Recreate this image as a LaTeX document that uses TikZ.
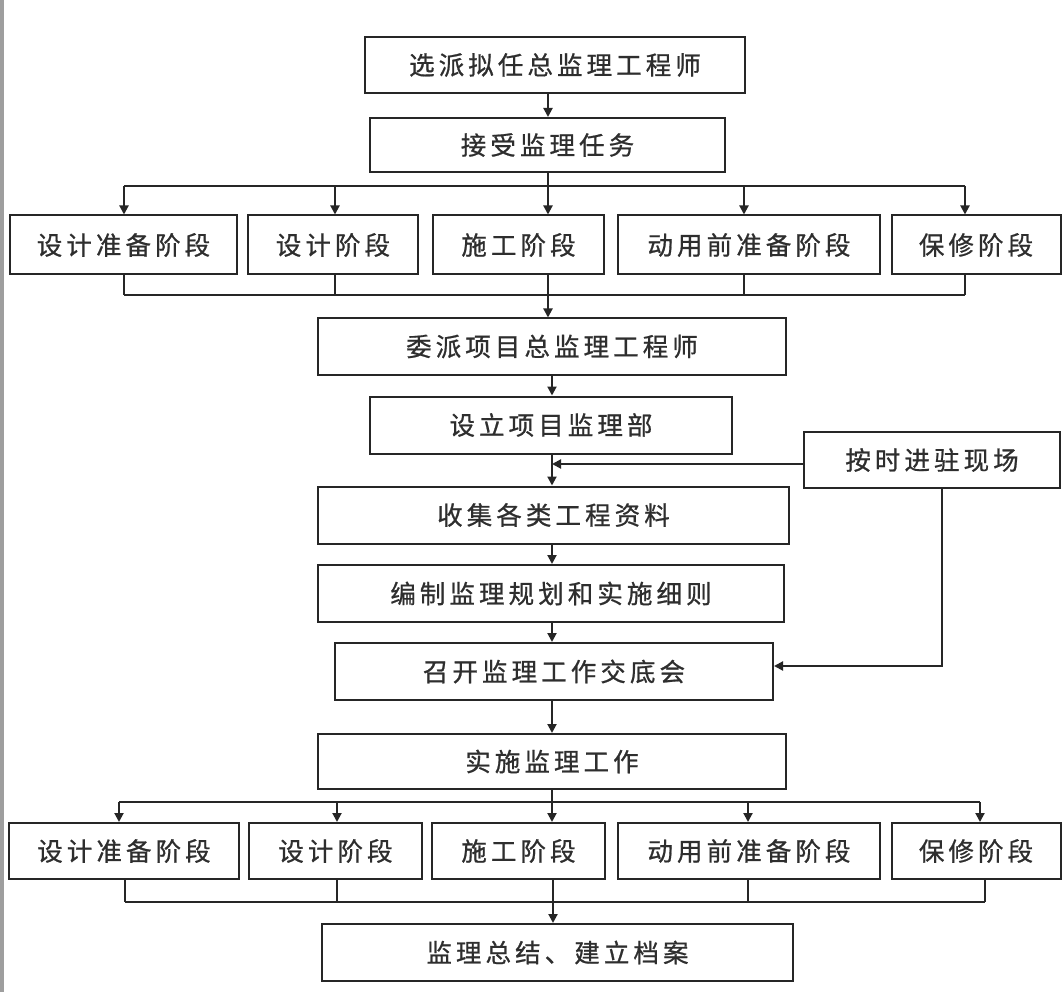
\documentclass[tikz,border=0pt]{standalone}
\usepackage{fontspec}
\newfontfamily\cjk{Noto Sans CJK SC}[LetterSpace=16, FakeBold=0.8]
\usetikzlibrary{arrows.meta}
\begin{document}
\begin{tikzpicture}[x=1pt,y=-1pt,
  box/.style={draw=black!85, line width=2pt, inner sep=0pt, font=\cjk\fontsize{25.5}{30}\selectfont, text=black!82},
  ln/.style={draw=black!85, line width=2pt},
  arr/.style={ln, -{Triangle[length=9pt,width=9pt]}}]
\useasboundingbox[fill=white] (0,0) rectangle (1063,992);
\fill[black!38] (0,0) rectangle (4,992);
% main column
\node[box, minimum width=380pt, minimum height=56pt] (b1) at (555,65) {选派拟任总监理工程师};
\node[box, minimum width=355pt, minimum height=54pt] (b2) at (547.5,145) {接受监理任务};
\node[box, minimum width=227pt, minimum height=59pt] (r1a) at (123.5,245) {设计准备阶段};
\node[box, minimum width=170pt, minimum height=59pt] (r1b) at (333,245) {设计阶段};
\node[box, minimum width=171pt, minimum height=59pt] (r1c) at (518.5,245) {施工阶段};
\node[box, minimum width=262pt, minimum height=59pt] (r1d) at (749,245) {动用前准备阶段};
\node[box, minimum width=169pt, minimum height=59pt] (r1e) at (976,245) {保修阶段};
\node[box, minimum width=468pt, minimum height=56pt] (b3) at (552,346.5) {委派项目总监理工程师};
\node[box, minimum width=362pt, minimum height=57pt] (b4) at (551,425) {设立项目监理部};
\node[box, minimum width=256pt, minimum height=56pt] (side) at (932,460) {按时进驻现场};
\node[box, minimum width=471pt, minimum height=57pt] (b5) at (553.5,515) {收集各类工程资料};
\node[box, minimum width=466pt, minimum height=57pt] (b6) at (551,593.5) {编制监理规划和实施细则};
\node[box, minimum width=438pt, minimum height=57pt] (b7) at (554,671.5) {召开监理工作交底会};
\node[box, minimum width=468pt, minimum height=55pt] (b8) at (552,761.5) {实施监理工作};
\node[box, minimum width=230pt, minimum height=56pt] (r2a) at (124,851) {设计准备阶段};
\node[box, minimum width=173pt, minimum height=56pt] (r2b) at (335.5,851) {设计阶段};
\node[box, minimum width=173pt, minimum height=56pt] (r2c) at (518.5,851) {施工阶段};
\node[box, minimum width=262pt, minimum height=56pt] (r2d) at (749,851) {动用前准备阶段};
\node[box, minimum width=169pt, minimum height=56pt] (r2e) at (976,851) {保修阶段};
\node[box, minimum width=471pt, minimum height=57pt] (b9) at (557.5,952.5) {监理总结、建立档案};
% junction coordinates
\coordinate (sp1) at (548,0);
\coordinate (sp2) at (552,0);
\coordinate (j1a) at (124,186); \coordinate (j1b) at (335,186); \coordinate (j1c) at (548,186);
\coordinate (j1d) at (744,186); \coordinate (j1e) at (965,186);
\coordinate (m1a) at (124,295); \coordinate (m1b) at (335,295); \coordinate (m1c) at (548,295);
\coordinate (m1d) at (744,295); \coordinate (m1e) at (965,295);
\coordinate (j2a) at (119,802); \coordinate (j2b) at (337,802); \coordinate (j2c) at (552,802);
\coordinate (j2d) at (748,802); \coordinate (j2e) at (980,802);
\coordinate (m2a) at (125,902); \coordinate (m2b) at (337,902); \coordinate (m2c) at (553,902);
\coordinate (m2d) at (748,902); \coordinate (m2e) at (985,902);
\coordinate (sj) at (552,464);
\coordinate (sc) at (942,666);
% connectors
\draw[arr] (b1.south -| sp1) -- (b2.north -| sp1);
\draw[ln] (b2.south -| j1c) -- (j1c);
\draw[ln] (j1a) -- (j1e);
\foreach \n in {a,b,c,d,e} {
  \draw[arr] (j1\n) -- (j1\n |- r1\n.north);
  \draw[ln] (r1\n.south -| m1\n) -- (m1\n);
}
\draw[ln] (m1a) -- (m1e);
\draw[arr] (m1c) -- (m1c |- b3.north);
\draw[arr] (b3.south -| sp2) -- (b4.north -| sp2);
\draw[arr] (b4.south -| sp2) -- (b5.north -| sp2);
\draw[arr] (side.west |- sj) -- (sj);
\draw[arr] (side.south -| sc) -- (sc) -- (b7.east |- sc);
\draw[arr] (b5.south -| sp2) -- (b6.north -| sp2);
\draw[arr] (b6.south -| sp2) -- (b7.north -| sp2);
\draw[arr] (b7.south -| sp2) -- (b8.north -| sp2);
\draw[ln] (b8.south -| j2c) -- (j2c);
\draw[ln] (j2a) -- (j2e);
\foreach \n in {a,b,c,d,e} {
  \draw[arr] (j2\n) -- (j2\n |- r2\n.north);
  \draw[ln] (r2\n.south -| m2\n) -- (m2\n);
}
\draw[ln] (m2a) -- (m2e);
\draw[arr] (m2c) -- (m2c |- b9.north);
\end{tikzpicture}
\end{document}
